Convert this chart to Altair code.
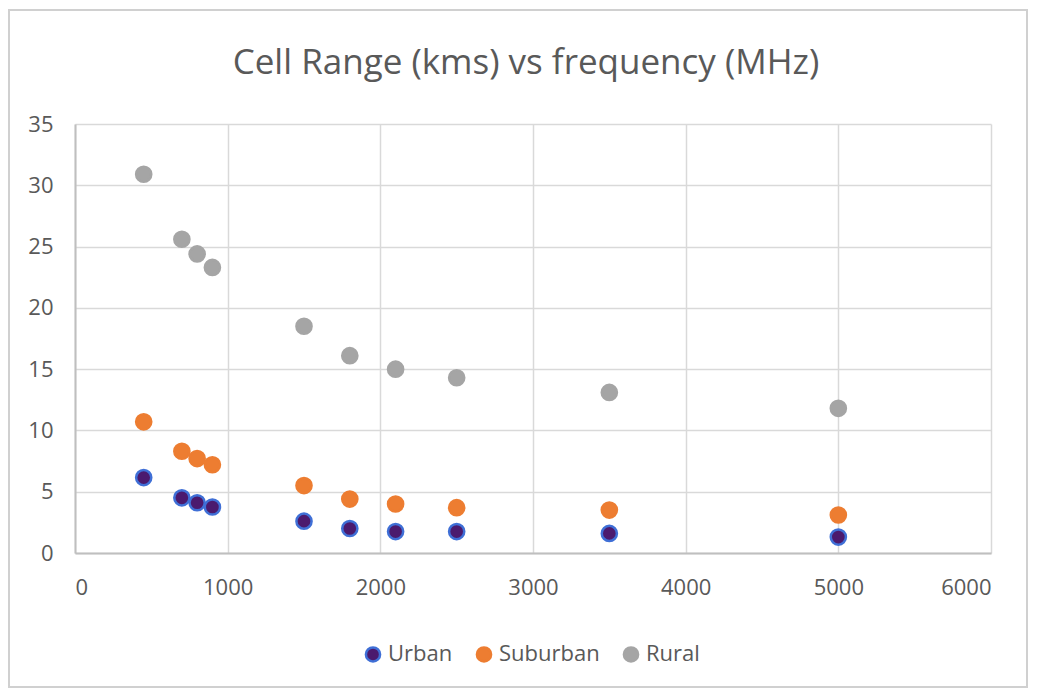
import altair as alt
import pandas as pd

freq = [450, 700, 800, 900, 1500, 1800, 2100, 2500, 3500, 5000]
urban = [6.15, 4.5, 4.1, 3.75, 2.6, 2.0, 1.75, 1.75, 1.6, 1.3]
suburban = [10.7, 8.3, 7.7, 7.2, 5.5, 4.4, 4.0, 3.7, 3.5, 3.1]
rural = [30.9, 25.6, 24.4, 23.3, 18.5, 16.1, 15.0, 14.3, 13.1, 11.8]

series = ["Urban", "Suburban", "Rural"]
fills = ["#4B1A6E", "#ED7D31", "#A5A5A5"]
strokes = ["#3F6FD6", "#ED7D31", "#A5A5A5"]

rows = []
for name, vals in zip(series, [urban, suburban, rural]):
    for f, v in zip(freq, vals):
        rows.append({"freq": f, "range": v, "series": name})
df = pd.DataFrame(rows)

FONT = "Open Sans"

points = alt.Chart(df).mark_point(filled=True, size=230, opacity=1, strokeWidth=2.5).encode(
    x=alt.X("freq:Q", scale=alt.Scale(domain=[0, 6000], nice=False),
            axis=alt.Axis(values=[0, 1000, 2000, 3000, 4000, 5000, 6000], title=None, format="d")),
    y=alt.Y("range:Q", scale=alt.Scale(domain=[0, 35], nice=False),
            axis=alt.Axis(values=[0, 5, 10, 15, 20, 25, 30, 35], title=None)),
    color=alt.Color("series:N", scale=alt.Scale(domain=series, range=fills),
                    legend=alt.Legend(title=None, orient="none", direction="horizontal",
                                      legendX=287, legendY=519,
                                      symbolType="circle", symbolSize=200, symbolStrokeWidth=2.5,
                                      labelFont=FONT, labelFontSize=22, labelColor="#595959",
                                      columnPadding=18, symbolOffset=0, labelOffset=4)),
    stroke=alt.Stroke("series:N", scale=alt.Scale(domain=series, range=strokes)),
    order=alt.Order("order:Q"),
).transform_calculate(order="datum.series == 'Rural' ? 0 : (datum.series == 'Suburban' ? 1 : 2)")

frame = alt.Chart(pd.DataFrame({"a": [0]})).mark_rect(
    fill=None, stroke="#D0D0D0", strokeWidth=2, clip=False
).encode(
    x=alt.value(-66), x2=alt.value(952), y=alt.value(-114), y2=alt.value(563)
)

chart = alt.layer(frame, points).properties(
    width=916, height=429,
    title=alt.Title("Cell Range (kms) vs frequency (MHz)", font=FONT, fontSize=35,
                    fontWeight="normal", color="#595959", anchor="middle", offset=34,
                    dx=-7, dy=106),
    autosize=alt.AutoSizeParams(type="none"),
    padding={"left": 67, "top": 116, "right": 38, "bottom": 136},
).configure_view(stroke=None).configure_axis(
    labelFont=FONT, labelFontSize=22, labelColor="#595959",
    gridColor="#D9D9D9", gridWidth=1.5, domainColor="#BFBFBF", domainWidth=2,
    ticks=False,
).configure_axisX(labelPadding=24).configure_axisY(labelPadding=22)

chart.save("out.html", embed_options={"renderer": "svg", "actions": False})
